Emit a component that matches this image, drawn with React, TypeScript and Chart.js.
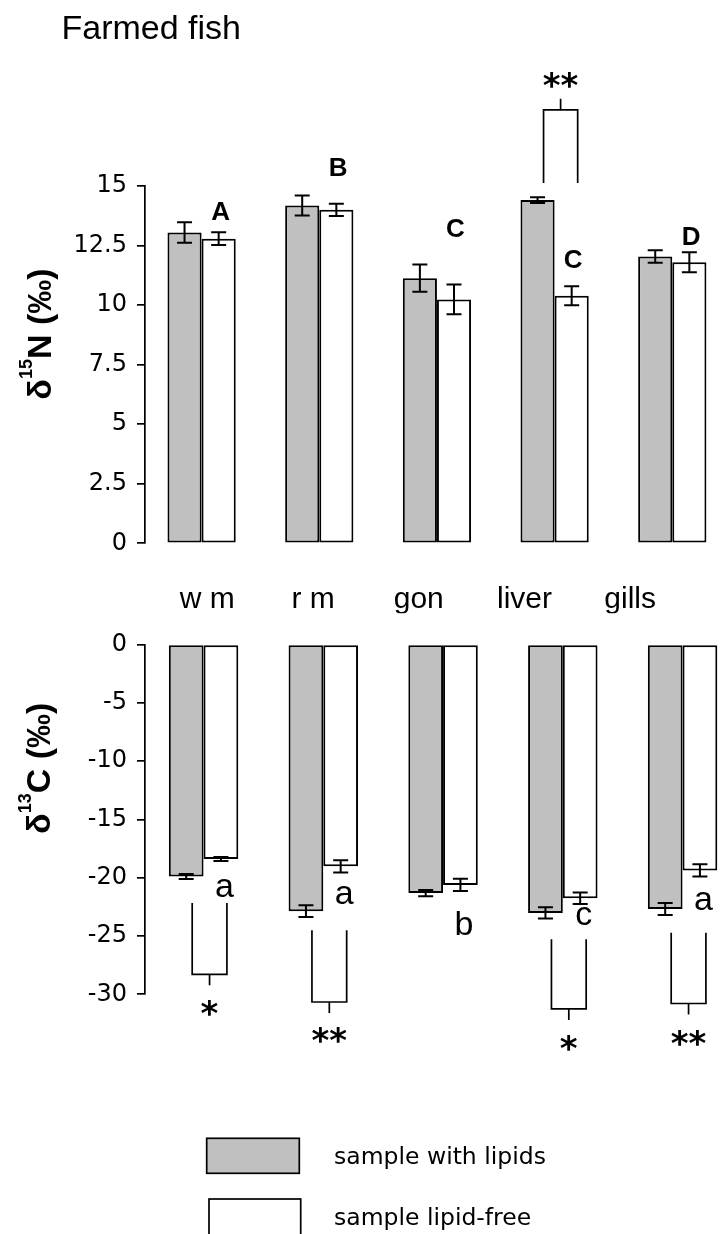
import React, { useEffect, useRef } from 'react';
import { Chart, registerables } from 'chart.js';

Chart.register(...registerables);

// ---------- data ----------
const categories = ['w m', 'r m', 'gon', 'liver', 'gills'];
const seriesNames = ['sample with lipids', 'sample lipid-free'];

const n15WithLipids = [13.05, 14.18, 11.13, 14.41, 12.04];
const n15WithLipidsSE = [0.43, 0.42, 0.57, 0.12, 0.26];
const n15LipidFree = [12.79, 14.0, 10.24, 10.39, 11.8];
const n15LipidFreeSE = [0.27, 0.26, 0.62, 0.4, 0.42];

const c13WithLipids = [-19.9, -22.87, -21.32, -23.02, -22.69];
const c13WithLipidsSE = [0.22, 0.5, 0.27, 0.49, 0.52];
const c13LipidFree = [-18.4, -19.03, -20.62, -21.76, -19.38];
const c13LipidFreeSE = [0.17, 0.52, 0.52, 0.49, 0.52];

const n15Ticks = [0, 2.5, 5, 7.5, 10, 12.5, 15];
const c13Ticks = [0, -5, -10, -15, -20, -25, -30];

const n15Letters = ['A', 'B', 'C', 'C', 'D'];
const n15LetterAt = [13.93, 15.81, 13.24, 11.95, 12.92];
const c13Letters = ['a', 'a', 'b', 'c', 'a'];
const c13LetterAt = [-20.91, -21.47, -23.87, -23.31, -22.04];

// significance brackets: category index, mark, leg start, bracket level, mark level
const n15SigIndex = [3];
const n15SigMark = ['**'];
const n15SigFrom = [15.13];
const n15SigTo = [18.2];
const n15SigMarkAt = [19.47];

const c13SigIndex = [0, 1, 3, 4];
const c13SigMark = ['*', '**', '*', '**'];
const c13SigFrom = [-22.18, -24.51, -25.27, -24.72];
const c13SigTo = [-28.29, -30.66, -31.25, -30.79];
const c13SigMarkAt = [-31.19, -33.53, -34.15, -33.73];

// ---------- styles ----------
const GRAY = '#c0c0c0';
const INK = '#000000';
const SANS = '"Liberation Sans", Arial, Helvetica, sans-serif';
const WIDE = '"DejaVu Sans", sans-serif';

function drawInk(ctx: CanvasRenderingContext2D, text: string, x: number, cy: number, font: string) {
  ctx.font = font;
  ctx.textAlign = 'left';
  ctx.textBaseline = 'alphabetic';
  const m = ctx.measureText(text);
  const left = m.actualBoundingBoxLeft;
  const right = m.actualBoundingBoxRight;
  const asc = m.actualBoundingBoxAscent;
  const desc = m.actualBoundingBoxDescent;
  ctx.fillText(text, x - (right - left) / 2, cy + (asc - desc) / 2);
}

function drawYTitle(ctx: CanvasRenderingContext2D, baseX: number, cy: number, pre: string, sup: string, post: string) {
  const big = `bold 34px ${SANS}`;
  const small = `bold 18px ${SANS}`;
  ctx.save();
  ctx.translate(baseX, cy);
  ctx.rotate(-Math.PI / 2);
  ctx.textAlign = 'left';
  ctx.textBaseline = 'alphabetic';
  ctx.fillStyle = INK;
  ctx.font = big;
  const w1 = ctx.measureText(pre).width;
  const w3 = ctx.measureText(post).width;
  ctx.font = small;
  const w2 = ctx.measureText(sup).width;
  let x = -(w1 + w2 + w3) / 2;
  ctx.font = big;
  ctx.fillText(pre, x, 0);
  x += w1;
  ctx.font = small;
  ctx.fillText(sup, x, -19);
  x += w2;
  ctx.font = big;
  ctx.fillText(post, x, 0);
  ctx.restore();
}

type Panel = {
  errs: number[][];
  letters: string[];
  letterAt: number[];
  letterFont: string;
  letterDx: number;
  sigIndex: number[];
  sigMark: string[];
  sigFrom: number[];
  sigTo: number[];
  sigMarkAt: number[];
  yTitle: [string, string, string];
  yTitleX: number;
  yTitleY: number;
  extra?: (chart: any, ctx: CanvasRenderingContext2D) => void;
};

function makePlugin(p: Panel) {
  return {
    id: 'panelAnnotations',
    afterDatasetsDraw(chart: any) {
      const ctx: CanvasRenderingContext2D = chart.ctx;
      const ys = chart.scales.y;
      ctx.save();
      ctx.strokeStyle = INK;
      ctx.lineWidth = 2;
      chart.data.datasets.forEach((ds: any, di: number) => {
        const meta = chart.getDatasetMeta(di);
        meta.data.forEach((bar: any, i: number) => {
          const v = ds.data[i].y;
          const e = p.errs[di][i];
          const x = bar.x;
          const y1 = ys.getPixelForValue(v - e);
          const y2 = ys.getPixelForValue(v + e);
          ctx.beginPath();
          ctx.moveTo(x, y1);
          ctx.lineTo(x, y2);
          ctx.moveTo(x - 7.5, y1);
          ctx.lineTo(x + 7.5, y1);
          ctx.moveTo(x - 7.5, y2);
          ctx.lineTo(x + 7.5, y2);
          ctx.stroke();
        });
      });
      ctx.restore();
    },
    afterDraw(chart: any) {
      const ctx: CanvasRenderingContext2D = chart.ctx;
      const ys = chart.scales.y;
      const m0 = chart.getDatasetMeta(0);
      const m1 = chart.getDatasetMeta(1);
      ctx.save();
      ctx.fillStyle = INK;
      ctx.strokeStyle = INK;
      // group letters
      p.letters.forEach((t, i) => {
        drawInk(ctx, t, m1.data[i].x + p.letterDx, ys.getPixelForValue(p.letterAt[i]), p.letterFont);
      });
      // significance brackets
      ctx.lineWidth = 1.7;
      p.sigIndex.forEach((ci, k) => {
        const xl = m0.data[ci].x + 6;
        const xr = m1.data[ci].x + 6;
        const yFrom = ys.getPixelForValue(p.sigFrom[k]);
        const yTo = ys.getPixelForValue(p.sigTo[k]);
        const dir = Math.sign(yTo - yFrom);
        const xm = (xl + xr) / 2;
        ctx.beginPath();
        ctx.moveTo(xl, yFrom);
        ctx.lineTo(xl, yTo);
        ctx.lineTo(xr, yTo);
        ctx.lineTo(xr, yFrom);
        ctx.moveTo(xm, yTo);
        ctx.lineTo(xm, yTo + dir * 11);
        ctx.stroke();
        drawInk(ctx, p.sigMark[k], xm, ys.getPixelForValue(p.sigMarkAt[k]), `bold 34px ${WIDE}`);
      });
      drawYTitle(ctx, p.yTitleX, p.yTitleY, p.yTitle[0], p.yTitle[1], p.yTitle[2]);
      if (p.extra) p.extra(chart, ctx);
      ctx.restore();
    },
  };
}

function barDatasets(a: number[], b: number[]) {
  return [
    {
      label: seriesNames[0],
      data: a.map((v, i) => ({ x: i, y: v })),
      backgroundColor: GRAY,
      borderColor: INK,
      borderWidth: 2,
      borderSkipped: false as const,
      categoryPercentage: 0.58,
      barPercentage: 1,
    },
    {
      label: seriesNames[1],
      data: b.map((v, i) => ({ x: i, y: v })),
      backgroundColor: '#ffffff',
      borderColor: INK,
      borderWidth: 2,
      borderSkipped: false as const,
      categoryPercentage: 0.58,
      barPercentage: 1,
    },
  ];
}

function barXAxis(min: number, max: number) {
  return {
    type: 'linear' as const,
    display: false,
    offset: false,
    min,
    max,
    afterBuildTicks: (s: any) => {
      s.ticks = categories.map((_, i) => ({ value: i }));
    },
  };
}

function yAxis(ticks: number[], min: number, max: number) {
  return {
    type: 'linear' as const,
    position: 'left' as const,
    min,
    max,
    afterFit: (s: any) => {
      s.width = 145;
    },
    afterBuildTicks: (s: any) => {
      s.ticks = ticks.map((v) => ({ value: v }));
    },
    border: { display: true, color: INK, width: 1.7 },
    grid: { display: true, drawOnChartArea: false, drawTicks: true, tickLength: 8, color: INK, lineWidth: 1.7 },
    ticks: {
      color: INK,
      padding: 10,
      font: { family: WIDE, size: 24 },
      callback: (v: any) => String(v),
    },
  };
}

export default function App() {
  const topRef = useRef<HTMLCanvasElement | null>(null);
  const botRef = useRef<HTMLCanvasElement | null>(null);

  useEffect(() => {
    if (!topRef.current || !botRef.current) return;

    const topChart = new Chart(topRef.current, {
      type: 'bar',
      data: { datasets: barDatasets(n15WithLipids, n15LipidFree) as any },
      options: {
        responsive: false,
        animation: false,
        devicePixelRatio: 1,
        layout: { padding: { top: 186, right: 0, bottom: 6.7, left: 0 } },
        plugins: { legend: { display: false }, tooltip: { enabled: false }, title: { display: false } },
        scales: {
          x: barXAxis(-0.481, 4.414),
          xl: {
            type: 'linear',
            axis: 'x',
            position: 'bottom',
            min: -0.59,
            max: 4.859,
            offset: false,
            afterFit: (s: any) => {
              s.height = 70;
            },
            afterBuildTicks: (s: any) => {
              s.ticks = categories.map((_, i) => ({ value: i }));
            },
            border: { display: false },
            grid: { display: false },
            ticks: {
              color: INK,
              padding: 30,
              autoSkip: false,
              maxRotation: 0,
              font: { family: SANS, size: 30 },
              callback: (_v: any, i: number) => categories[i],
            },
          } as any,
          y: yAxis(n15Ticks, 0, 15),
        },
      } as any,
      plugins: [
        makePlugin({
          errs: [n15WithLipidsSE, n15LipidFreeSE],
          letters: n15Letters,
          letterAt: n15LetterAt,
          letterFont: `bold 26px ${SANS}`,
          letterDx: 2,
          sigIndex: n15SigIndex,
          sigMark: n15SigMark,
          sigFrom: n15SigFrom,
          sigTo: n15SigTo,
          sigMarkAt: n15SigMarkAt,
          yTitle: ['δ', '15', 'N (‰)'],
          yTitleX: 50.5,
          yTitleY: 334,
          extra: (_chart, ctx) => {
            ctx.font = `34px ${SANS}`;
            ctx.textAlign = 'left';
            ctx.textBaseline = 'alphabetic';
            ctx.fillStyle = INK;
            ctx.fillText('Farmed fish', 61.5, 38.5);
          },
        }) as any,
      ],
    });

    const botChart = new Chart(botRef.current, {
      type: 'bar',
      data: { datasets: barDatasets(c13WithLipids, c13LipidFree) as any },
      options: {
        responsive: false,
        animation: false,
        devicePixelRatio: 1,
        layout: { padding: { top: 19.3, right: 0, bottom: 239.7, left: 0 } },
        plugins: { legend: { display: false }, tooltip: { enabled: false }, title: { display: false } },
        scales: {
          x: barXAxis(-0.489, 4.321),
          y: yAxis(c13Ticks, -30, 0),
        },
      } as any,
      plugins: [
        makePlugin({
          errs: [c13WithLipidsSE, c13LipidFreeSE],
          letters: c13Letters,
          letterAt: c13LetterAt,
          letterFont: `34px ${SANS}`,
          letterDx: 4,
          sigIndex: c13SigIndex,
          sigMark: c13SigMark,
          sigFrom: c13SigFrom,
          sigTo: c13SigTo,
          sigMarkAt: c13SigMarkAt,
          yTitle: ['δ', '13', 'C (‰)'],
          yTitleX: 50,
          yTitleY: 148.3,
          extra: (chart, ctx) => {
            // legend
            const boxes = [
              { x: 206.7, y: 518.3, w: 92.6, h: 35, ty: 543.8 },
              { x: 209, y: 579, w: 91.7, h: 42, ty: 604.5 },
            ];
            chart.data.datasets.forEach((ds: any, i: number) => {
              const b = boxes[i];
              ctx.fillStyle = ds.backgroundColor;
              ctx.fillRect(b.x, b.y, b.w, b.h);
              ctx.strokeStyle = INK;
              ctx.lineWidth = 1.7;
              ctx.strokeRect(b.x, b.y, b.w, b.h);
              ctx.fillStyle = INK;
              ctx.font = `23.5px ${WIDE}`;
              ctx.textAlign = 'left';
              ctx.textBaseline = 'alphabetic';
              ctx.fillText(ds.label, 334, b.ty);
            });
          },
        }) as any,
      ],
    });

    return () => {
      topChart.destroy();
      botChart.destroy();
    };
  }, []);

  return (
    <div style={{ position: 'absolute', left: 0, top: 0, width: 721, height: 1234, overflow: 'hidden', background: '#fff' }}>
      <canvas ref={topRef} width={721} height={620} style={{ position: 'absolute', left: 0, top: 0, width: 721, height: 620 }} />
      <canvas ref={botRef} width={721} height={614} style={{ position: 'absolute', left: 0, top: 620, width: 721, height: 614 }} />
    </div>
  );
}
